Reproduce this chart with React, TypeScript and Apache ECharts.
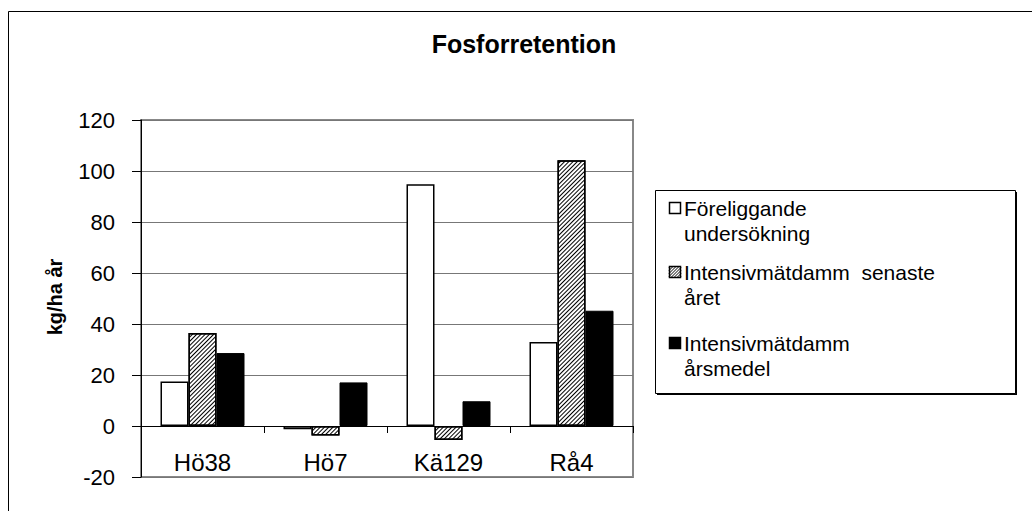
import React, { useEffect, useRef } from "react";
import * as echarts from "echarts";

const categories = ["Hö38", "Hö7", "Kä129", "Rå4"];
const seriesNames = [
  "Föreliggande undersökning",
  "Intensivmätdamm  senaste året",
  "Intensivmätdamm årsmedel",
];
const legendLines = [
  "Föreliggande\nundersökning",
  "Intensivmätdamm  senaste\nåret",
  "Intensivmätdamm\nårsmedel",
];
const foreliggande = [17.5, -1.3, 94.8, 32.9];
const senaste = [36.5, -3.7, -5.5, 104.2];
const arsmedel = [28.6, 17.1, 9.7, 45.2];
const yMin = -20;
const yMax = 120;
const yInterval = 20;
const titleText = "Fosforretention";
const yAxisTitle = "kg/ha år";

const FONT = "'Liberation Sans', Arial, sans-serif";

function hatchLines(x0: number, y0: number, s: number, step: number) {
  const out: any[] = [];
  for (let k = x0 + y0 + step / 2; k < x0 + y0 + 2 * s; k += step) {
    const pts: number[][] = [];
    const cand = [
      [x0, k - x0],
      [x0 + s, k - x0 - s],
      [k - y0, y0],
      [k - y0 - s, y0 + s],
    ];
    for (const p of cand) {
      if (p[0] >= x0 - 1e-6 && p[0] <= x0 + s + 1e-6 && p[1] >= y0 - 1e-6 && p[1] <= y0 + s + 1e-6) {
        if (!pts.some((q) => Math.abs(q[0] - p[0]) < 1e-6 && Math.abs(q[1] - p[1]) < 1e-6)) pts.push(p);
      }
    }
    if (pts.length >= 2) {
      out.push({
        type: "line",
        shape: { x1: pts[0][0], y1: pts[0][1], x2: pts[1][0], y2: pts[1][1] },
        style: { stroke: "#000", lineWidth: 1 },
        silent: true,
        z: 12,
      });
    }
  }
  return out;
}

export default function App() {
  const ref = useRef<HTMLDivElement>(null);
  useEffect(() => {
    if (!ref.current) return;
    const chart = echarts.init(ref.current, undefined, { renderer: "svg" });

    const hatchDecal = {
      symbol: "rect",
      symbolSize: 1,
      dashArrayX: [1, 0],
      dashArrayY: [1, 2],
      rotation: -Math.PI / 4,
      color: "#000",
      backgroundColor: "#fff",
    };

    const legendX = 655;
    const legendY = 190;
    const legendW = 360;
    const legendH = 203;
    const iconX = 669;
    const iconSize = 12;
    const iconCenters = [208, 272, 343];

    const legendGraphics: any[] = [
      {
        type: "rect",
        shape: { x: legendX + 2, y: legendY + 2, width: legendW, height: legendH },
        style: { fill: "#000" },
        z: 9,
      },
      {
        type: "rect",
        shape: { x: legendX + 0.5, y: legendY + 0.5, width: legendW, height: legendH },
        style: { fill: "#fff", stroke: "#000", lineWidth: 1 },
        z: 10,
      },
    ];
    iconCenters.forEach((c, i) => {
      const y0 = c - iconSize / 2;
      legendGraphics.push({
        type: "rect",
        shape: { x: iconX + 0.5, y: y0 + 0.5, width: iconSize - 1, height: iconSize - 1 },
        style: { fill: i === 2 ? "#000" : "#fff", stroke: "#000", lineWidth: 1.5 },
        z: 11,
      });
      if (i === 1) {
        legendGraphics.push(...hatchLines(iconX, y0, iconSize, 3));
      }
      legendGraphics.push({
        type: "text",
        x: 684,
        y: c - 12.5,
        style: {
          text: legendLines[i],
          font: `21px ${FONT}`,
          fill: "#000",
          lineHeight: 25,
          align: "left",
          verticalAlign: "top",
        },
        z: 11,
      });
    });

    chart.setOption({
      animation: false,
      backgroundColor: "#fff",
      grid: {
        left: 141,
        top: 120,
        right: 1032 - 633,
        bottom: 511 - 477,
        show: true,
        borderColor: "#888",
        borderWidth: 2,
        backgroundColor: "#fff",
        containLabel: false,
        outerBoundsMode: "none",
      },
      xAxis: {
        type: "category",
        data: categories,
        axisLine: { onZero: true, lineStyle: { color: "#000", width: 1 } },
        axisTick: { show: true, length: 7, alignWithLabel: false, interval: 0, lineStyle: { color: "#000" } },
        axisLabel: { fontSize: 24, fontFamily: FONT, color: "#000", margin: -27, interval: 0 },
        splitLine: { show: false },
      },
      yAxis: {
        type: "value",
        min: yMin,
        max: yMax,
        interval: yInterval,
        axisLine: { show: true, lineStyle: { color: "#000", width: 1 } },
        axisTick: { show: true, length: 9, lineStyle: { color: "#000" } },
        axisLabel: { fontSize: 22, fontFamily: FONT, color: "#000", margin: 26 },
        splitLine: { show: true, lineStyle: { color: "#777", width: 1 } },
      },
      series: [
        {
          name: seriesNames[0],
          type: "bar",
          data: foreliggande,
          barWidth: 28,
          barGap: "0%",
          itemStyle: { color: "#fff", borderColor: "#000", borderWidth: 1.5 },
        },
        {
          name: seriesNames[1],
          type: "bar",
          data: senaste,
          barWidth: 28,
          barGap: "0%",
          itemStyle: { color: "#fff", borderColor: "#000", borderWidth: 1.5, decal: hatchDecal },
        },
        {
          name: seriesNames[2],
          type: "bar",
          data: arsmedel,
          barWidth: 28,
          barGap: "0%",
          itemStyle: { color: "#000", borderColor: "#000", borderWidth: 1 },
        },
      ],
      graphic: [
        {
          type: "rect",
          shape: { x: 8.5, y: 11.5, width: 1200, height: 700 },
          style: { fill: "none", stroke: "#000", lineWidth: 1 },
          silent: true,
          z: -1,
        },
        {
          type: "text",
          x: 524,
          y: 44,
          style: {
            text: titleText,
            font: `bold 25px ${FONT}`,
            fill: "#000",
            align: "center",
            verticalAlign: "middle",
          },
        },
        {
          type: "text",
          x: 55,
          y: 297,
          rotation: Math.PI / 2,
          style: {
            text: yAxisTitle,
            font: `bold 20px ${FONT}`,
            fill: "#000",
            align: "center",
            verticalAlign: "middle",
          },
        },
        ...legendGraphics,
      ],
    });
    return () => chart.dispose();
  }, []);
  return (
    <div
      ref={ref}
      style={{ position: "absolute", left: 0, top: 0, width: 1032, height: 511 }}
    />
  );
}
